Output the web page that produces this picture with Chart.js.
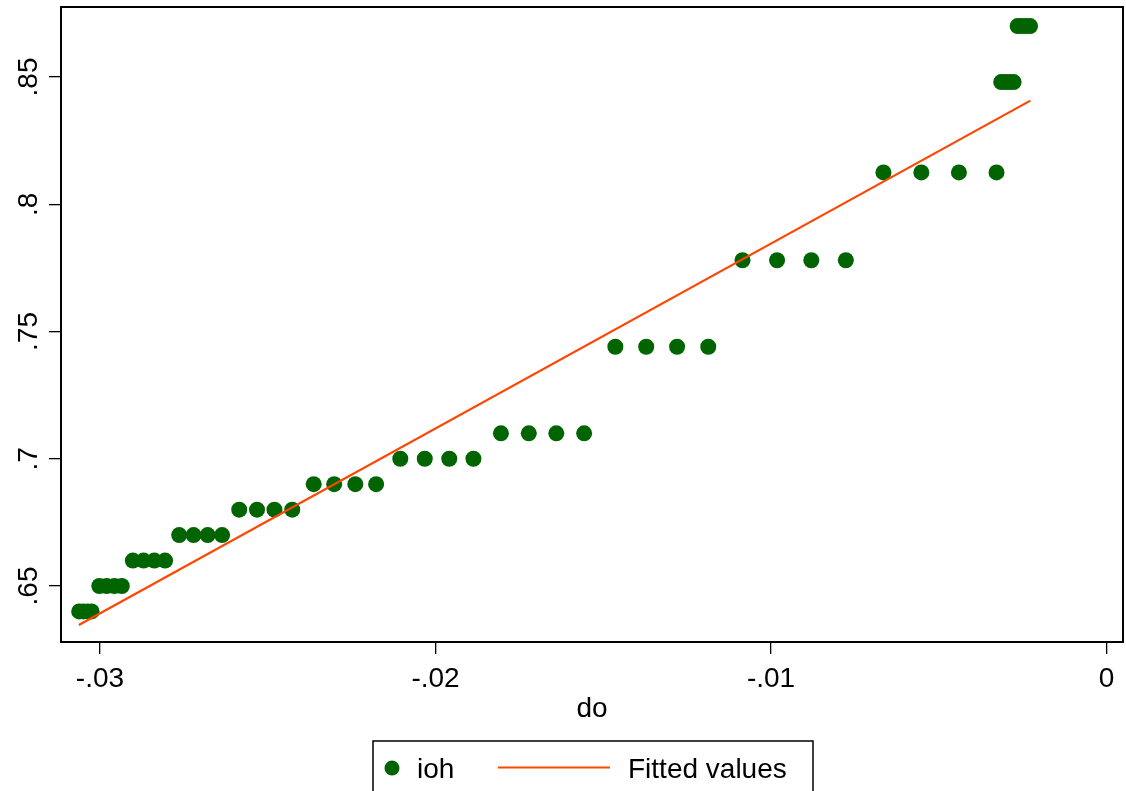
<!DOCTYPE html>
<html>
<head>
<meta charset="utf-8">
<script src="https://cdn.jsdelivr.net/npm/chart.js@4.4.0/dist/chart.umd.min.js"></script>
<style>
  html, body { margin: 0; padding: 0; background: #fff; }
</style>
</head>
<body>
<canvas id="myChart" width="1126" height="791"></canvas>
<script>
// values
const doVals = [
    -0.03062, -0.03050, -0.03037, -0.03025,
    -0.03002, -0.02980, -0.02957, -0.02935,
    -0.02902, -0.02870, -0.02838, -0.02806,
    -0.02764, -0.02721, -0.02679, -0.02636,
    -0.02585, -0.02532, -0.02480, -0.02427,
    -0.02363, -0.02302, -0.02239, -0.02177,
    -0.02105, -0.02032, -0.01959, -0.01887,
    -0.01805, -0.01722, -0.01640, -0.01557,
    -0.01464, -0.01372, -0.01280, -0.01187,
    -0.01085, -0.00982, -0.00880, -0.00777,
    -0.00665, -0.00552, -0.00440, -0.00328,
    -0.00314, -0.00302, -0.00289, -0.00277,
    -0.00265, -0.00253, -0.00240, -0.00228
];
const iohVals = [
    0.640, 0.640, 0.640, 0.640,
    0.650, 0.650, 0.650, 0.650,
    0.660, 0.660, 0.660, 0.660,
    0.670, 0.670, 0.670, 0.670,
    0.680, 0.680, 0.680, 0.680,
    0.690, 0.690, 0.690, 0.690,
    0.700, 0.700, 0.700, 0.700,
    0.710, 0.710, 0.710, 0.710,
    0.744, 0.744, 0.744, 0.744,
    0.778, 0.778, 0.778, 0.778,
    0.8125, 0.8125, 0.8125, 0.8125,
    0.848, 0.848, 0.848, 0.848,
    0.870, 0.870, 0.870, 0.870
];
const fitX = [-0.03063, -0.00227];
const fitY = [0.6347, 0.8407];

const xTicks = [-0.03, -0.02, -0.01, 0];
const xTickLabels = ['-.03', '-.02', '-.01', '0'];
const yTicks = [0.65, 0.7, 0.75, 0.8, 0.85];
const yTickLabels = ['.65', '.7', '.75', '.8', '.85'];

const xTitle = 'do';
const seriesNames = ['ioh', 'Fitted values'];

const green = '#006400';
const orange = '#ff4500';
const fontFamily = '"Liberation Sans", Arial, Helvetica, sans-serif';

// frame, tick labels, x title and the Stata style legend box
const stataBits = {
    id: 'stataBits',
    afterDraw(chart) {
        const c = chart.ctx;
        const area = chart.chartArea;
        const xs = chart.scales.x;
        const ys = chart.scales.y;

        c.save();
        c.strokeStyle = '#000';
        c.lineWidth = 2;
        c.strokeRect(area.left, area.top, area.right - area.left, area.bottom - area.top);

        c.fillStyle = '#000';
        c.font = '28px ' + fontFamily;
        c.textAlign = 'center';
        c.textBaseline = 'alphabetic';
        yTicks.forEach(function(v, i) {
            c.save();
            c.translate(37, ys.getPixelForValue(v));
            c.rotate(-Math.PI / 2);
            c.fillText(yTickLabels[i], 0, 0);
            c.restore();
        });
        xTicks.forEach(function(v, i) {
            c.fillText(xTickLabels[i], xs.getPixelForValue(v), 687);
        });

        c.fillText(xTitle, (area.left + area.right) / 2, 717);

        // legend
        c.lineWidth = 1.5;
        c.strokeRect(373, 741, 440, 70);
        c.fillStyle = green;
        c.beginPath();
        c.arc(392, 768, 7.5, 0, Math.PI * 2);
        c.fill();
        c.strokeStyle = orange;
        c.lineWidth = 2;
        c.beginPath();
        c.moveTo(498, 767.5);
        c.lineTo(610, 767.5);
        c.stroke();
        c.fillStyle = '#000';
        c.textAlign = 'left';
        c.fillText(seriesNames[0], 417, 778);
        c.fillText(seriesNames[1], 628, 778);
        c.restore();
    }
};

document.addEventListener('DOMContentLoaded', function() {
    const ctx = document.getElementById('myChart').getContext('2d');

    new Chart(ctx, {
        type: 'scatter',
        data: {
            datasets: [{
                label: seriesNames[0],
                data: doVals.map(function(x, i) { return { x: x, y: iohVals[i] }; }),
                backgroundColor: green,
                borderWidth: 0,
                pointRadius: 8,
                order: 2
            }, {
                type: 'line',
                label: seriesNames[1],
                data: fitX.map(function(x, i) { return { x: x, y: fitY[i] }; }),
                borderColor: orange,
                borderWidth: 2.2,
                pointRadius: 0,
                fill: false,
                order: 1
            }]
        },
        options: {
            responsive: false,
            animation: false,
            layout: {
                autoPadding: false,
                padding: { top: 7, right: 3, left: 0, bottom: 0 }
            },
            plugins: {
                legend: { display: false },
                tooltip: { enabled: false }
            },
            scales: {
                x: {
                    type: 'linear',
                    min: -0.031162,
                    max: 0.00049,
                    afterBuildTicks: function(scale) {
                        scale.ticks = xTicks.map(function(v) { return { value: v }; });
                    },
                    afterFit: function(scale) { scale.height = 149; },
                    border: { display: false },
                    grid: {
                        drawOnChartArea: false,
                        drawTicks: true,
                        tickLength: 12,
                        color: '#000',
                        lineWidth: 1.3
                    },
                    ticks: { display: false }
                },
                y: {
                    type: 'linear',
                    min: 0.628,
                    max: 0.8775,
                    afterBuildTicks: function(scale) {
                        scale.ticks = yTicks.map(function(v) { return { value: v }; });
                    },
                    afterFit: function(scale) { scale.width = 61; },
                    border: { display: false },
                    grid: {
                        drawOnChartArea: false,
                        drawTicks: true,
                        tickLength: 12,
                        color: '#000',
                        lineWidth: 1.3
                    },
                    ticks: { display: false }
                }
            }
        },
        plugins: [stataBits]
    });
});
</script>
</body>
</html>
